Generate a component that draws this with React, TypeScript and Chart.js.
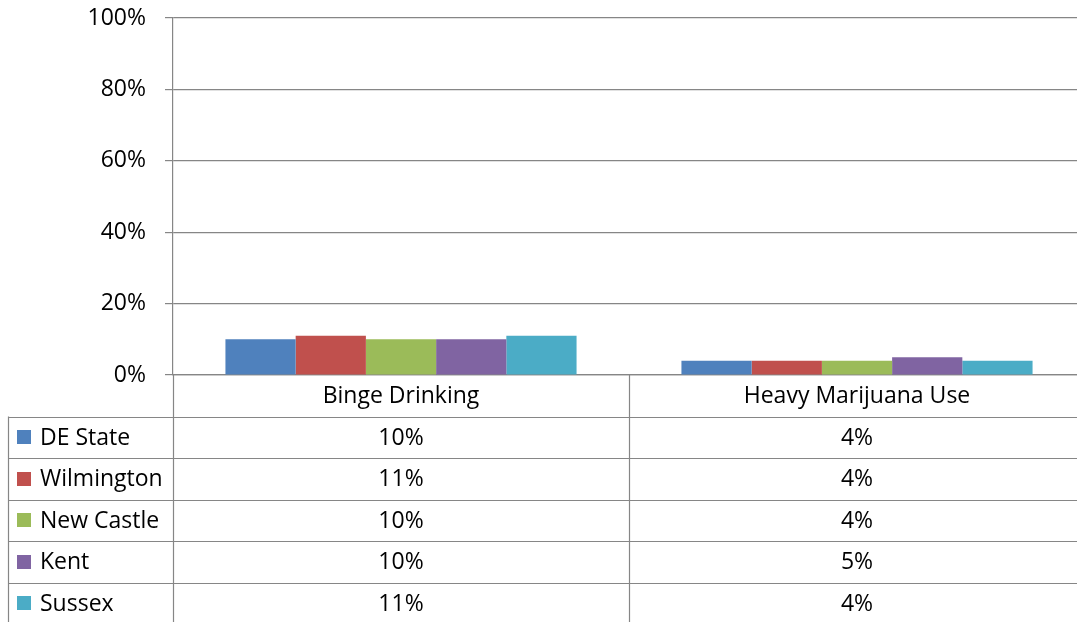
import React, { useEffect, useRef } from "react";
import { Chart, registerables } from "chart.js";

Chart.register(...registerables);

const categories = ["Binge Drinking", "Heavy Marijuana Use"];
const seriesNames = ["DE State", "Wilmington", "New Castle", "Kent", "Sussex"];
const deState = [10, 4];
const wilmington = [11, 4];
const newCastle = [10, 4];
const kent = [10, 5];
const sussex = [11, 4];
const seriesValues = [deState, wilmington, newCastle, kent, sussex];
const seriesColors = ["#4F81BD", "#C0504D", "#9BBB59", "#8064A2", "#4BACC6"];
const yMin = 0;
const yMax = 100;
const yStep = 20;

const FONT = "'Open Sans'";
const FONT_SIZE = 23;
const LINE = "#868686";
const CANVAS_W = 1100;
const CANVAS_H = 640;
const ROW_H = 41.5;
const TABLE_LEFT = 8.5;

const dataTablePlugin = {
  id: "dataTable",
  afterDraw(chart: any) {
    const ctx = chart.ctx;
    const xs = chart.scales.x;
    const area = chart.chartArea;
    const n = categories.length;
    const catW = (area.right - area.left) / n;
    const top = area.bottom;
    const rows = seriesNames.length;
    ctx.save();
    ctx.strokeStyle = LINE;
    ctx.lineWidth = 1.2;
    ctx.beginPath();
    for (let i = 0; i <= n; i++) {
      const xv = Math.round(area.left + i * catW) + 0.5;
      ctx.moveTo(xv, top);
      ctx.lineTo(xv, top + ROW_H * (rows + 1));
    }
    ctx.moveTo(TABLE_LEFT, top + ROW_H);
    ctx.lineTo(TABLE_LEFT, top + ROW_H * (rows + 1));
    for (let r = 1; r <= rows + 1; r++) {
      const yv = Math.round(top + ROW_H * r) + 0.5;
      ctx.moveTo(TABLE_LEFT, yv);
      ctx.lineTo(area.right, yv);
    }
    ctx.stroke();

    ctx.fillStyle = "#000000";
    ctx.font = `${FONT_SIZE}px ${FONT}`;
    ctx.textBaseline = "middle";
    ctx.textAlign = "center";
    categories.forEach((c, i) => {
      ctx.fillText(c, xs.getPixelForValue(i), top + ROW_H / 2 + 1);
    });
    chart.data.datasets.forEach((ds: any, r: number) => {
      const yc = top + ROW_H * (r + 1) + ROW_H / 2 + 1;
      ctx.fillStyle = ds.backgroundColor;
      ctx.fillRect(17, Math.round(yc - 8), 14, 14);
      ctx.fillStyle = "#000000";
      ctx.textAlign = "left";
      ctx.fillText(ds.label, 40, yc);
      ctx.textAlign = "center";
      ds.data.forEach((v: number, i: number) => {
        ctx.fillText(`${v}%`, xs.getPixelForValue(i), yc);
      });
    });
    ctx.restore();
  },
};

export default function App() {
  const ref = useRef<HTMLCanvasElement | null>(null);
  useEffect(() => {
    if (!ref.current) return;
    const chart = new Chart(ref.current, {
      type: "bar",
      data: {
        labels: categories,
        datasets: seriesNames.map((name, i) => ({
          label: name,
          data: seriesValues[i],
          backgroundColor: seriesColors[i],
          borderWidth: 0,
          barPercentage: 1,
          categoryPercentage: 0.77,
        })),
      },
      options: {
        responsive: false,
        animation: false,
        events: [],
        layout: { padding: { left: 0, top: 18, right: CANVAS_W - 1085, bottom: CANVAS_H - 375 } },
        plugins: {
          legend: { display: false },
          title: { display: false },
          tooltip: { enabled: false },
        },
        scales: {
          x: {
            grid: { display: false, drawTicks: false },
            ticks: { display: false },
            border: { display: true, color: LINE, width: 1.2 },
            afterFit(scale: any) {
              scale.height = 0;
            },
          },
          y: {
            min: yMin,
            max: yMax,
            ticks: {
              stepSize: yStep,
              padding: 19,
              color: "#000000",
              font: { family: FONT, size: FONT_SIZE },
              callback: (v: any) => `${v}%`,
            },
            grid: { color: LINE, lineWidth: 1.2, drawTicks: true, tickLength: 8 },
            border: { display: true, color: LINE, width: 1.2 },
            afterFit(scale: any) {
              scale.width = 173;
              scale.paddingTop = 0;
              scale.paddingBottom = 0;
            },
          },
        },
      },
      plugins: [dataTablePlugin],
    });
    return () => chart.destroy();
  }, []);
  return (
    <div style={{ position: "absolute", left: 0, top: 0, width: 1077, height: 622, overflow: "hidden", background: "#fff" }}>
      <canvas ref={ref} width={CANVAS_W} height={CANVAS_H} style={{ display: "block" }} />
    </div>
  );
}
